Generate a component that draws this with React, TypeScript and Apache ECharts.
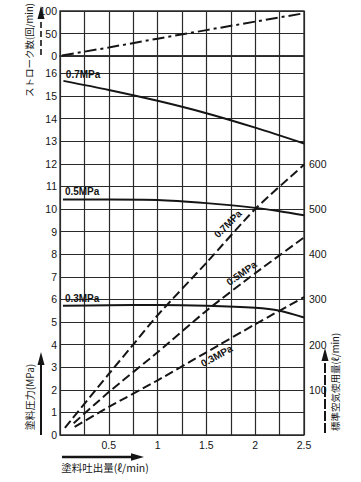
import React, { useEffect, useRef } from "react";
import * as echarts from "echarts";

// ---- data ----
const xTicks = [0.5, 1, 1.5, 2, 2.5];
const strokeX = [0.02, 0.5, 1.0, 1.5, 2.0, 2.5];
const strokeCount = [1, 19, 38.5, 57.5, 76.5, 95];

const p07X = [0.035, 0.5, 1.0, 1.5, 2.0, 2.5];
const p07 = [15.67, 15.27, 14.79, 14.24, 13.6, 12.9];
const p05X = [0.03, 0.5, 1.0, 1.5, 2.0, 2.25, 2.5];
const p05 = [10.42, 10.42, 10.4, 10.26, 10.05, 9.9, 9.72];
const p03X = [0.03, 0.5, 1.0, 1.5, 2.0, 2.25, 2.5];
const p03 = [5.72, 5.74, 5.75, 5.72, 5.63, 5.5, 5.2];

const air07X = [0.05, 0.5, 0.75, 1.0, 1.5, 2.0, 2.5];
const air07 = [16, 135, 200, 265, 381, 500, 598];
const air05X = [0.14, 0.5, 1.0, 1.5, 2.0, 2.5];
const air05 = [26, 95, 183, 275, 358, 437];
const air03X = [0.15, 0.5, 1.0, 1.5, 2.0, 2.5];
const air03 = [18, 62, 121, 183, 245, 305];

const pressureLabels = ["0.7MPa", "0.5MPa", "0.3MPa"];
const rightTickLabels = [100, 200, 300, 400, 500, 600];
// label anchors on the air-consumption lines: [x, air, angle°]
const airLabelAnchors = [
  [1.72, 467, 45],
  [1.86, 358, 35],
  [1.605, 175, 29],
];

const zip = (xs: number[], ys: number[]) => xs.map((x, i) => [x, ys[i]]);

const INK = "#151515";
const GRIDC = "#2a2a2a";
const NUMFONT = "Liberation Sans, Arial, sans-serif";
const JPFONT = "Noto Sans CJK JP, sans-serif";

export default function App() {
  const ref = useRef<HTMLDivElement>(null);
  useEffect(() => {
    if (!ref.current) return;
    const chart = echarts.init(ref.current, null, { renderer: "svg" });
    const numLabel = { color: INK, fontSize: 10.5, fontFamily: NUMFONT };
    const split = { show: true, lineStyle: { color: GRIDC, width: 1.2 } };
    const lineLabel = {
      show: true,
      color: INK,
      fontSize: 10,
      fontWeight: "bold" as const,
      fontFamily: NUMFONT,
    };
    const hLabelPoint = (x: number, y: number, text: string) => ({
      symbol: "circle",
      symbolSize: 0,
      silent: true,
      data: [{ coord: [x, y] }],
      label: { ...lineLabel, position: "right", distance: 0, formatter: text },
    });
    const solid = { color: INK, width: 2, type: "solid" as const };
    const dashed = { color: INK, width: 2, type: [9, 4] as any };

    chart.setOption({
      animation: false,
      backgroundColor: "#ffffff",
      grid: [
        { left: 60, top: 11, width: 244, height: 45, show: true, borderColor: GRIDC, borderWidth: 1.3 },
        { left: 60, top: 56, width: 244, height: 379, show: true, borderColor: GRIDC, borderWidth: 1.3 },
      ],
      xAxis: [
        {
          gridIndex: 0, type: "value", min: 0, max: 2.5, interval: 0.25,
          axisLabel: { show: false }, axisTick: { show: false }, axisLine: { show: false },
          splitLine: split,
        },
        {
          gridIndex: 1, type: "value", min: 0, max: 2.5, interval: 0.25,
          axisTick: { show: false }, axisLine: { show: false }, splitLine: split,
          axisLabel: {
            ...numLabel, margin: 4,
            formatter: (v: number) => {
              const t = xTicks.find((k) => Math.abs(k - v) < 1e-6);
              return t === undefined ? "" : String(t);
            },
          },
        },
      ],
      yAxis: [
        {
          gridIndex: 0, type: "value", min: 0, max: 100, interval: 50,
          axisTick: { show: false }, axisLine: { show: false }, splitLine: split,
          axisLabel: { ...numLabel, margin: 3 },
        },
        {
          gridIndex: 1, type: "value", min: 0, max: 16.77, interval: 1,
          axisTick: { show: false }, axisLine: { show: false }, splitLine: split,
          axisLabel: {
            ...numLabel, margin: 3,
            formatter: (v: number) => (Math.abs(v - Math.round(v)) < 1e-6 ? String(Math.round(v)) : ""),
          },
        },
        {
          gridIndex: 1, type: "value", position: "right", min: 0, max: 838.5, interval: 100,
          axisTick: { show: false }, axisLine: { show: false }, splitLine: { show: false },
          axisLabel: {
            ...numLabel, margin: 5,
            formatter: (v: number) => {
              const t = rightTickLabels.find((k) => Math.abs(k - v) < 1e-6);
              return t === undefined ? "" : String(t);
            },
          },
        },
      ],
      series: [
        {
          type: "line", xAxisIndex: 0, yAxisIndex: 0, symbol: "none",
          data: zip(strokeX, strokeCount),
          lineStyle: { color: INK, width: 2, type: [12, 4, 3, 4] as any },
        },
        {
          type: "line", xAxisIndex: 1, yAxisIndex: 1, symbol: "none", smooth: 0.3,
          data: zip(p07X, p07), lineStyle: solid,
          markPoint: hLabelPoint(0.06, 15.95, pressureLabels[0]),
        },
        {
          type: "line", xAxisIndex: 1, yAxisIndex: 1, symbol: "none", smooth: 0.3,
          data: zip(p05X, p05), lineStyle: solid,
          markPoint: hLabelPoint(0.05, 10.77, pressureLabels[1]),
        },
        {
          type: "line", xAxisIndex: 1, yAxisIndex: 1, symbol: "none", smooth: 0.3,
          data: zip(p03X, p03), lineStyle: solid,
          markPoint: hLabelPoint(0.05, 6.06, pressureLabels[2]),
        },
        {
          type: "line", xAxisIndex: 1, yAxisIndex: 2, symbol: "none", smooth: 0.2,
          data: zip(air07X, air07), lineStyle: dashed,
        },
        {
          type: "line", xAxisIndex: 1, yAxisIndex: 2, symbol: "none", smooth: 0.2,
          data: zip(air05X, air05), lineStyle: dashed,
        },
        {
          type: "line", xAxisIndex: 1, yAxisIndex: 2, symbol: "none", smooth: 0.2,
          data: zip(air03X, air03), lineStyle: dashed,
        },
      ],
    });

    const airTexts = airLabelAnchors.map(([x, a, deg], i) => {
      const pt = chart.convertToPixel({ seriesIndex: 4 + i }, [x, a]) as number[];
      return {
        type: "text", x: pt[0], y: pt[1], rotation: (deg * Math.PI) / 180, silent: true,
        style: {
          text: pressureLabels[i], fill: INK, fontSize: 10, fontWeight: "bold",
          fontFamily: NUMFONT, align: "center", verticalAlign: "middle",
        },
      };
    });

    chart.setOption({
      graphic: [
        ...airTexts,
        // axis titles
        {
          type: "text", x: 29, y: 50, rotation: Math.PI / 2,
          style: { text: "ストローク数(回/min)", fill: INK, fontSize: 9.5, fontFamily: JPFONT, align: "center", verticalAlign: "middle" },
        },
        {
          type: "text", x: 29, y: 397, rotation: Math.PI / 2,
          style: { text: "塗料圧力(MPa)", fill: INK, fontSize: 10, fontFamily: JPFONT, align: "center", verticalAlign: "middle" },
        },
        {
          type: "text", x: 105, y: 467,
          style: { text: "塗料吐出量(ℓ/min)", fill: INK, fontSize: 10.5, fontFamily: JPFONT, align: "center", verticalAlign: "middle" },
        },
        {
          type: "text", x: 335, y: 382, rotation: Math.PI / 2,
          style: { text: "標準空気使用量(ℓ/min)", fill: INK, fontSize: 9.5, fontFamily: JPFONT, align: "center", verticalAlign: "middle" },
        },
        // arrows
        { type: "line", shape: { x1: 41, y1: 55, x2: 41, y2: 18 }, style: { stroke: INK, lineWidth: 1.6, lineDash: [6, 3] } },
        { type: "polygon", shape: { points: [[41, 6], [37.5, 19], [44.5, 19]] }, style: { fill: INK } },
        { type: "line", shape: { x1: 41, y1: 435, x2: 41, y2: 364 }, style: { stroke: INK, lineWidth: 2 } },
        { type: "polygon", shape: { points: [[41, 352], [37.5, 365], [44.5, 365]] }, style: { fill: INK } },
        { type: "line", shape: { x1: 62, y1: 457, x2: 132, y2: 457 }, style: { stroke: INK, lineWidth: 2.4 } },
        { type: "polygon", shape: { points: [[144, 457], [131, 453.3], [131, 460.7]] }, style: { fill: INK } },
        { type: "line", shape: { x1: 325, y1: 433, x2: 325, y2: 361 }, style: { stroke: INK, lineWidth: 2, lineDash: [10, 2] } },
        { type: "polygon", shape: { points: [[325, 348], [321.5, 361], [328.5, 361]] }, style: { fill: INK } },
      ],
    });
    return () => chart.dispose();
  }, []);
  return (
    <div
      ref={ref}
      style={{ position: "fixed", left: 0, top: 0, width: 361, height: 482, background: "#fff" }}
    />
  );
}
